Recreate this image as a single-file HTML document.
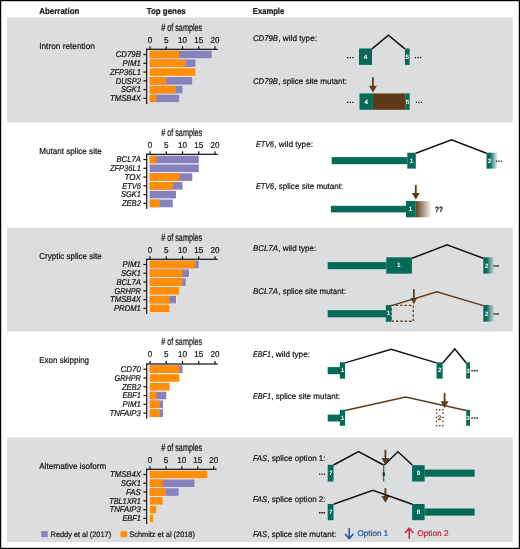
<!DOCTYPE html>
<html><head><meta charset="utf-8"><title>Splice site aberrations</title>
<style>
html,body{margin:0;padding:0;background:#fff;}
body{width:520px;height:549px;overflow:hidden;}
text{stroke:#151515;stroke-width:0.22px;} text.ns{stroke:none;} svg{display:block;will-change:transform;text-rendering:geometricPrecision;font-family:"Liberation Sans",sans-serif;}
</style></head><body>
<svg width="520" height="549" viewBox="0 0 520 549">
<defs>
<linearGradient id="fadeG" x1="0" x2="1" y1="0" y2="0"><stop offset="0" stop-color="#056b56"/><stop offset="1" stop-color="#056b56" stop-opacity="0"/></linearGradient>
<linearGradient id="fadeG2" x1="0" x2="1" y1="0" y2="0"><stop offset="0" stop-color="#056b56"/><stop offset="0.3" stop-color="#056b56"/><stop offset="1" stop-color="#056b56" stop-opacity="0"/></linearGradient>
<linearGradient id="fadeB" x1="0" x2="1" y1="0" y2="0"><stop offset="0" stop-color="#5f3a18"/><stop offset="1" stop-color="#5f3a18" stop-opacity="0"/></linearGradient>
</defs>
<rect x="0" y="0" width="520" height="549" fill="#fff"/>
<rect x="7" y="17.6" width="505.75" height="104.80000000000001" fill="#dcddde"/>
<rect x="7" y="227.75" width="505.75" height="103.85000000000002" fill="#dcddde"/>
<rect x="7" y="437.4" width="505.75" height="104.60000000000002" fill="#dcddde"/>
<rect x="0.6" y="0.6" width="518.8" height="547.8" fill="none" stroke="#000" stroke-width="1.2"/>
<text x="39.2" y="13.5" font-size="8.7" font-weight="bold" font-style="normal" text-anchor="start" fill="#151515" textLength="40.2" lengthAdjust="spacingAndGlyphs">Aberration</text>
<text x="146.7" y="13.5" font-size="8.7" font-weight="bold" font-style="normal" text-anchor="start" fill="#151515" textLength="39.0" lengthAdjust="spacingAndGlyphs">Top genes</text>
<text x="252.8" y="13.5" font-size="8.7" font-weight="bold" font-style="normal" text-anchor="start" fill="#151515" textLength="31.4" lengthAdjust="spacingAndGlyphs">Example</text>
<text x="39.2" y="48.8" font-size="8.6" font-weight="normal" font-style="normal" text-anchor="start" fill="#151515" textLength="55.7" lengthAdjust="spacingAndGlyphs">Intron retention</text>
<text x="181.7" y="30.499999999999996" font-size="10.3" font-weight="normal" font-style="normal" text-anchor="middle" fill="#151515" textLength="41" lengthAdjust="spacingAndGlyphs" stroke="#1a1a1a" stroke-width="0.25"># of samples</text>
<text transform="translate(150.0 42.699999999999996) scale(0.95 1)" font-size="8.5" font-weight="normal" font-style="normal" text-anchor="middle" fill="#151515">0</text>
<rect x="149.4" y="46.3" width="1.2" height="3.0" fill="#111"/>
<text transform="translate(166.25 42.699999999999996) scale(0.95 1)" font-size="8.5" font-weight="normal" font-style="normal" text-anchor="middle" fill="#151515">5</text>
<rect x="165.65" y="46.3" width="1.2" height="3.0" fill="#111"/>
<text transform="translate(182.5 42.699999999999996) scale(0.95 1)" font-size="8.5" font-weight="normal" font-style="normal" text-anchor="middle" fill="#151515">10</text>
<rect x="181.9" y="46.3" width="1.2" height="3.0" fill="#111"/>
<text transform="translate(198.75 42.699999999999996) scale(0.95 1)" font-size="8.5" font-weight="normal" font-style="normal" text-anchor="middle" fill="#151515">15</text>
<rect x="198.15" y="46.3" width="1.2" height="3.0" fill="#111"/>
<text transform="translate(215.0 42.699999999999996) scale(0.95 1)" font-size="8.5" font-weight="normal" font-style="normal" text-anchor="middle" fill="#151515">20</text>
<rect x="214.4" y="46.3" width="1.2" height="3.0" fill="#111"/>
<rect x="147.2" y="49.8" width="2.5" height="52.67999999999999" fill="#f2f2f7"/>
<rect x="149" y="50.199999999999996" width="63.25" height="8.6" fill="#f2f2f7" opacity="0.75"/>
<rect x="149" y="58.98" width="47.0" height="8.6" fill="#f2f2f7" opacity="0.75"/>
<rect x="149" y="67.75999999999999" width="47.0" height="8.6" fill="#f2f2f7" opacity="0.75"/>
<rect x="149" y="76.53999999999999" width="43.75" height="8.6" fill="#f2f2f7" opacity="0.75"/>
<rect x="149" y="85.32" width="34.0" height="8.6" fill="#f2f2f7" opacity="0.75"/>
<rect x="149" y="94.1" width="30.75" height="8.6" fill="#f2f2f7" opacity="0.75"/>
<rect x="149.7" y="50.699999999999996" width="62.05000000000001" height="7.6" fill="#8781bd"/>
<rect x="149.7" y="50.699999999999996" width="29.55000000000001" height="7.6" fill="#ff8e05"/>
<rect x="143.4" y="53.89999999999999" width="3.3" height="1.2" fill="#111"/>
<text x="140.9" y="57.24999999999999" font-size="8.4" font-weight="normal" font-style="italic" text-anchor="end" fill="#151515" textLength="25.2" lengthAdjust="spacingAndGlyphs">CD79B</text>
<rect x="149.7" y="59.48" width="45.80000000000001" height="7.6" fill="#8781bd"/>
<rect x="149.7" y="59.48" width="36.05000000000001" height="7.6" fill="#ff8e05"/>
<rect x="143.4" y="62.67999999999999" width="3.3" height="1.2" fill="#111"/>
<text x="140.9" y="66.03" font-size="8.4" font-weight="normal" font-style="italic" text-anchor="end" fill="#151515" textLength="18.3" lengthAdjust="spacingAndGlyphs">PIM1</text>
<rect x="149.7" y="68.25999999999999" width="45.80000000000001" height="7.6" fill="#ff8e05"/>
<rect x="143.4" y="71.46" width="3.3" height="1.2" fill="#111"/>
<text x="140.9" y="74.80999999999999" font-size="8.4" font-weight="normal" font-style="italic" text-anchor="end" fill="#151515" textLength="31.0" lengthAdjust="spacingAndGlyphs">ZFP36L1</text>
<rect x="149.7" y="77.03999999999999" width="42.55000000000001" height="7.6" fill="#8781bd"/>
<rect x="149.7" y="77.03999999999999" width="16.55000000000001" height="7.6" fill="#ff8e05"/>
<rect x="143.4" y="80.24" width="3.3" height="1.2" fill="#111"/>
<text x="140.9" y="83.58999999999999" font-size="8.4" font-weight="normal" font-style="italic" text-anchor="end" fill="#151515" textLength="25.2" lengthAdjust="spacingAndGlyphs">DUSP2</text>
<rect x="149.7" y="85.82" width="32.80000000000001" height="7.6" fill="#8781bd"/>
<rect x="149.7" y="85.82" width="26.30000000000001" height="7.6" fill="#ff8e05"/>
<rect x="143.4" y="89.02" width="3.3" height="1.2" fill="#111"/>
<text x="140.9" y="92.36999999999999" font-size="8.4" font-weight="normal" font-style="italic" text-anchor="end" fill="#151515" textLength="19.9" lengthAdjust="spacingAndGlyphs">SGK1</text>
<rect x="149.7" y="94.6" width="29.55000000000001" height="7.6" fill="#8781bd"/>
<rect x="149.7" y="94.6" width="6.800000000000011" height="7.6" fill="#ff8e05"/>
<rect x="143.4" y="97.8" width="3.3" height="1.2" fill="#111"/>
<text x="140.9" y="101.14999999999999" font-size="8.4" font-weight="normal" font-style="italic" text-anchor="end" fill="#151515" textLength="30.8" lengthAdjust="spacingAndGlyphs">TMSB4X</text>
<rect x="146.1" y="48.699999999999996" width="71.70000000000002" height="1.2" fill="#111"/>
<rect x="146.1" y="48.699999999999996" width="1.2" height="55.28" fill="#111"/>
<text x="39.2" y="154.1" font-size="8.6" font-weight="normal" font-style="normal" text-anchor="start" fill="#151515" textLength="62.5" lengthAdjust="spacingAndGlyphs">Mutant splice site</text>
<text x="181.7" y="135.5" font-size="10.3" font-weight="normal" font-style="normal" text-anchor="middle" fill="#151515" textLength="41" lengthAdjust="spacingAndGlyphs" stroke="#1a1a1a" stroke-width="0.25"># of samples</text>
<text transform="translate(150.0 147.70000000000002) scale(0.95 1)" font-size="8.5" font-weight="normal" font-style="normal" text-anchor="middle" fill="#151515">0</text>
<rect x="149.4" y="151.3" width="1.2" height="3.0" fill="#111"/>
<text transform="translate(166.25 147.70000000000002) scale(0.95 1)" font-size="8.5" font-weight="normal" font-style="normal" text-anchor="middle" fill="#151515">5</text>
<rect x="165.65" y="151.3" width="1.2" height="3.0" fill="#111"/>
<text transform="translate(182.5 147.70000000000002) scale(0.95 1)" font-size="8.5" font-weight="normal" font-style="normal" text-anchor="middle" fill="#151515">10</text>
<rect x="181.9" y="151.3" width="1.2" height="3.0" fill="#111"/>
<text transform="translate(198.75 147.70000000000002) scale(0.95 1)" font-size="8.5" font-weight="normal" font-style="normal" text-anchor="middle" fill="#151515">15</text>
<rect x="198.15" y="151.3" width="1.2" height="3.0" fill="#111"/>
<text transform="translate(215.0 147.70000000000002) scale(0.95 1)" font-size="8.5" font-weight="normal" font-style="normal" text-anchor="middle" fill="#151515">20</text>
<rect x="214.4" y="151.3" width="1.2" height="3.0" fill="#111"/>
<rect x="147.2" y="154.8" width="2.5" height="52.67999999999999" fill="#f2f2f7"/>
<rect x="149" y="155.20000000000002" width="50.25" height="8.6" fill="#f2f2f7" opacity="0.75"/>
<rect x="149" y="163.98000000000002" width="50.25" height="8.6" fill="#f2f2f7" opacity="0.75"/>
<rect x="149" y="172.76000000000002" width="43.75" height="8.6" fill="#f2f2f7" opacity="0.75"/>
<rect x="149" y="181.54000000000002" width="34.0" height="8.6" fill="#f2f2f7" opacity="0.75"/>
<rect x="149" y="190.32000000000002" width="27.5" height="8.6" fill="#f2f2f7" opacity="0.75"/>
<rect x="149" y="199.10000000000002" width="24.25" height="8.6" fill="#f2f2f7" opacity="0.75"/>
<rect x="149.7" y="155.70000000000002" width="49.05000000000001" height="7.6" fill="#8781bd"/>
<rect x="149.7" y="155.70000000000002" width="6.800000000000011" height="7.6" fill="#ff8e05"/>
<rect x="143.4" y="158.90000000000003" width="3.3" height="1.2" fill="#111"/>
<text x="140.9" y="162.25000000000003" font-size="8.4" font-weight="normal" font-style="italic" text-anchor="end" fill="#151515" textLength="24.5" lengthAdjust="spacingAndGlyphs">BCL7A</text>
<rect x="149.7" y="164.48000000000002" width="49.05000000000001" height="7.6" fill="#8781bd"/>
<rect x="143.4" y="167.68000000000004" width="3.3" height="1.2" fill="#111"/>
<text x="140.9" y="171.03000000000003" font-size="8.4" font-weight="normal" font-style="italic" text-anchor="end" fill="#151515" textLength="31.0" lengthAdjust="spacingAndGlyphs">ZFP36L1</text>
<rect x="149.7" y="173.26000000000002" width="42.55000000000001" height="7.6" fill="#8781bd"/>
<rect x="149.7" y="173.26000000000002" width="29.55000000000001" height="7.6" fill="#ff8e05"/>
<rect x="143.4" y="176.46000000000004" width="3.3" height="1.2" fill="#111"/>
<text x="140.9" y="179.81000000000003" font-size="8.4" font-weight="normal" font-style="italic" text-anchor="end" fill="#151515" textLength="16.4" lengthAdjust="spacingAndGlyphs">TOX</text>
<rect x="149.7" y="182.04000000000002" width="32.80000000000001" height="7.6" fill="#8781bd"/>
<rect x="149.7" y="182.04000000000002" width="23.05000000000001" height="7.6" fill="#ff8e05"/>
<rect x="143.4" y="185.24000000000004" width="3.3" height="1.2" fill="#111"/>
<text x="140.9" y="188.59000000000003" font-size="8.4" font-weight="normal" font-style="italic" text-anchor="end" fill="#151515" textLength="18.7" lengthAdjust="spacingAndGlyphs">ETV6</text>
<rect x="149.7" y="190.82000000000002" width="26.30000000000001" height="7.6" fill="#8781bd"/>
<rect x="143.4" y="194.02000000000004" width="3.3" height="1.2" fill="#111"/>
<text x="140.9" y="197.37000000000003" font-size="8.4" font-weight="normal" font-style="italic" text-anchor="end" fill="#151515" textLength="19.9" lengthAdjust="spacingAndGlyphs">SGK1</text>
<rect x="149.7" y="199.60000000000002" width="23.05000000000001" height="7.6" fill="#8781bd"/>
<rect x="149.7" y="199.60000000000002" width="10.050000000000011" height="7.6" fill="#ff8e05"/>
<rect x="143.4" y="202.80000000000004" width="3.3" height="1.2" fill="#111"/>
<text x="140.9" y="206.15000000000003" font-size="8.4" font-weight="normal" font-style="italic" text-anchor="end" fill="#151515" textLength="19.0" lengthAdjust="spacingAndGlyphs">ZEB2</text>
<rect x="146.1" y="153.70000000000002" width="71.70000000000002" height="1.2" fill="#111"/>
<rect x="146.1" y="153.70000000000002" width="1.2" height="55.27999999999999" fill="#111"/>
<text x="39.2" y="258.8" font-size="8.6" font-weight="normal" font-style="normal" text-anchor="start" fill="#151515" textLength="62.5" lengthAdjust="spacingAndGlyphs">Cryptic splice site</text>
<text x="181.7" y="240.5" font-size="10.3" font-weight="normal" font-style="normal" text-anchor="middle" fill="#151515" textLength="41" lengthAdjust="spacingAndGlyphs" stroke="#1a1a1a" stroke-width="0.25"># of samples</text>
<text transform="translate(150.0 252.70000000000002) scale(0.95 1)" font-size="8.5" font-weight="normal" font-style="normal" text-anchor="middle" fill="#151515">0</text>
<rect x="149.4" y="256.3" width="1.2" height="3.0" fill="#111"/>
<text transform="translate(166.25 252.70000000000002) scale(0.95 1)" font-size="8.5" font-weight="normal" font-style="normal" text-anchor="middle" fill="#151515">5</text>
<rect x="165.65" y="256.3" width="1.2" height="3.0" fill="#111"/>
<text transform="translate(182.5 252.70000000000002) scale(0.95 1)" font-size="8.5" font-weight="normal" font-style="normal" text-anchor="middle" fill="#151515">10</text>
<rect x="181.9" y="256.3" width="1.2" height="3.0" fill="#111"/>
<text transform="translate(198.75 252.70000000000002) scale(0.95 1)" font-size="8.5" font-weight="normal" font-style="normal" text-anchor="middle" fill="#151515">15</text>
<rect x="198.15" y="256.3" width="1.2" height="3.0" fill="#111"/>
<text transform="translate(215.0 252.70000000000002) scale(0.95 1)" font-size="8.5" font-weight="normal" font-style="normal" text-anchor="middle" fill="#151515">20</text>
<rect x="214.4" y="256.3" width="1.2" height="3.0" fill="#111"/>
<rect x="147.2" y="259.8" width="2.5" height="52.67999999999999" fill="#f2f2f7"/>
<rect x="149" y="260.2" width="50.25" height="8.6" fill="#f2f2f7" opacity="0.75"/>
<rect x="149" y="268.97999999999996" width="40.5" height="8.6" fill="#f2f2f7" opacity="0.75"/>
<rect x="149" y="277.76" width="37.25" height="8.6" fill="#f2f2f7" opacity="0.75"/>
<rect x="149" y="286.53999999999996" width="30.75" height="8.6" fill="#f2f2f7" opacity="0.75"/>
<rect x="149" y="295.32" width="27.5" height="8.6" fill="#f2f2f7" opacity="0.75"/>
<rect x="149" y="304.09999999999997" width="21.0" height="8.6" fill="#f2f2f7" opacity="0.75"/>
<rect x="149.7" y="260.7" width="49.05000000000001" height="7.6" fill="#8781bd"/>
<rect x="149.7" y="260.7" width="45.80000000000001" height="7.6" fill="#ff8e05"/>
<rect x="143.4" y="263.9" width="3.3" height="1.2" fill="#111"/>
<text x="140.9" y="267.25" font-size="8.4" font-weight="normal" font-style="italic" text-anchor="end" fill="#151515" textLength="18.3" lengthAdjust="spacingAndGlyphs">PIM1</text>
<rect x="149.7" y="269.47999999999996" width="39.30000000000001" height="7.6" fill="#8781bd"/>
<rect x="149.7" y="269.47999999999996" width="32.80000000000001" height="7.6" fill="#ff8e05"/>
<rect x="143.4" y="272.67999999999995" width="3.3" height="1.2" fill="#111"/>
<text x="140.9" y="276.03" font-size="8.4" font-weight="normal" font-style="italic" text-anchor="end" fill="#151515" textLength="19.9" lengthAdjust="spacingAndGlyphs">SGK1</text>
<rect x="149.7" y="278.26" width="36.05000000000001" height="7.6" fill="#8781bd"/>
<rect x="149.7" y="278.26" width="32.80000000000001" height="7.6" fill="#ff8e05"/>
<rect x="143.4" y="281.46" width="3.3" height="1.2" fill="#111"/>
<text x="140.9" y="284.81" font-size="8.4" font-weight="normal" font-style="italic" text-anchor="end" fill="#151515" textLength="24.5" lengthAdjust="spacingAndGlyphs">BCL7A</text>
<rect x="149.7" y="287.03999999999996" width="29.55000000000001" height="7.6" fill="#ff8e05"/>
<rect x="143.4" y="290.23999999999995" width="3.3" height="1.2" fill="#111"/>
<text x="140.9" y="293.59" font-size="8.4" font-weight="normal" font-style="italic" text-anchor="end" fill="#151515" textLength="26.4" lengthAdjust="spacingAndGlyphs">GRHPR</text>
<rect x="149.7" y="295.82" width="26.30000000000001" height="7.6" fill="#8781bd"/>
<rect x="149.7" y="295.82" width="19.80000000000001" height="7.6" fill="#ff8e05"/>
<rect x="143.4" y="299.02" width="3.3" height="1.2" fill="#111"/>
<text x="140.9" y="302.37" font-size="8.4" font-weight="normal" font-style="italic" text-anchor="end" fill="#151515" textLength="30.8" lengthAdjust="spacingAndGlyphs">TMSB4X</text>
<rect x="149.7" y="304.59999999999997" width="19.80000000000001" height="7.6" fill="#ff8e05"/>
<rect x="143.4" y="307.79999999999995" width="3.3" height="1.2" fill="#111"/>
<text x="140.9" y="311.15" font-size="8.4" font-weight="normal" font-style="italic" text-anchor="end" fill="#151515" textLength="26.9" lengthAdjust="spacingAndGlyphs">PRDM1</text>
<rect x="146.1" y="258.7" width="71.70000000000002" height="1.2" fill="#111"/>
<rect x="146.1" y="258.7" width="1.2" height="55.27999999999999" fill="#111"/>
<text x="39.2" y="363.0" font-size="8.6" font-weight="normal" font-style="normal" text-anchor="start" fill="#151515" textLength="49.9" lengthAdjust="spacingAndGlyphs">Exon skipping</text>
<text x="181.7" y="345.2" font-size="10.3" font-weight="normal" font-style="normal" text-anchor="middle" fill="#151515" textLength="41" lengthAdjust="spacingAndGlyphs" stroke="#1a1a1a" stroke-width="0.25"># of samples</text>
<text transform="translate(150.0 357.4) scale(0.95 1)" font-size="8.5" font-weight="normal" font-style="normal" text-anchor="middle" fill="#151515">0</text>
<rect x="149.4" y="361.0" width="1.2" height="3.0" fill="#111"/>
<text transform="translate(166.25 357.4) scale(0.95 1)" font-size="8.5" font-weight="normal" font-style="normal" text-anchor="middle" fill="#151515">5</text>
<rect x="165.65" y="361.0" width="1.2" height="3.0" fill="#111"/>
<text transform="translate(182.5 357.4) scale(0.95 1)" font-size="8.5" font-weight="normal" font-style="normal" text-anchor="middle" fill="#151515">10</text>
<rect x="181.9" y="361.0" width="1.2" height="3.0" fill="#111"/>
<text transform="translate(198.75 357.4) scale(0.95 1)" font-size="8.5" font-weight="normal" font-style="normal" text-anchor="middle" fill="#151515">15</text>
<rect x="198.15" y="361.0" width="1.2" height="3.0" fill="#111"/>
<text transform="translate(215.0 357.4) scale(0.95 1)" font-size="8.5" font-weight="normal" font-style="normal" text-anchor="middle" fill="#151515">20</text>
<rect x="214.4" y="361.0" width="1.2" height="3.0" fill="#111"/>
<rect x="147.2" y="364.5" width="2.5" height="52.67999999999999" fill="#f2f2f7"/>
<rect x="149" y="364.9" width="34.0" height="8.6" fill="#f2f2f7" opacity="0.75"/>
<rect x="149" y="373.67999999999995" width="30.75" height="8.6" fill="#f2f2f7" opacity="0.75"/>
<rect x="149" y="382.46" width="21.0" height="8.6" fill="#f2f2f7" opacity="0.75"/>
<rect x="149" y="391.23999999999995" width="17.75" height="8.6" fill="#f2f2f7" opacity="0.75"/>
<rect x="149" y="400.02" width="14.5" height="8.6" fill="#f2f2f7" opacity="0.75"/>
<rect x="149" y="408.79999999999995" width="14.5" height="8.6" fill="#f2f2f7" opacity="0.75"/>
<rect x="149.7" y="365.4" width="32.80000000000001" height="7.6" fill="#8781bd"/>
<rect x="149.7" y="365.4" width="29.55000000000001" height="7.6" fill="#ff8e05"/>
<rect x="143.4" y="368.59999999999997" width="3.3" height="1.2" fill="#111"/>
<text x="140.9" y="371.95" font-size="8.4" font-weight="normal" font-style="italic" text-anchor="end" fill="#151515" textLength="20.4" lengthAdjust="spacingAndGlyphs">CD70</text>
<rect x="149.7" y="374.17999999999995" width="29.55000000000001" height="7.6" fill="#ff8e05"/>
<rect x="143.4" y="377.37999999999994" width="3.3" height="1.2" fill="#111"/>
<text x="140.9" y="380.72999999999996" font-size="8.4" font-weight="normal" font-style="italic" text-anchor="end" fill="#151515" textLength="26.4" lengthAdjust="spacingAndGlyphs">GRHPR</text>
<rect x="149.7" y="382.96" width="19.80000000000001" height="7.6" fill="#ff8e05"/>
<rect x="143.4" y="386.15999999999997" width="3.3" height="1.2" fill="#111"/>
<text x="140.9" y="389.51" font-size="8.4" font-weight="normal" font-style="italic" text-anchor="end" fill="#151515" textLength="19.0" lengthAdjust="spacingAndGlyphs">ZEB2</text>
<rect x="149.7" y="391.73999999999995" width="16.55000000000001" height="7.6" fill="#8781bd"/>
<rect x="149.7" y="391.73999999999995" width="6.800000000000011" height="7.6" fill="#ff8e05"/>
<rect x="143.4" y="394.93999999999994" width="3.3" height="1.2" fill="#111"/>
<text x="140.9" y="398.28999999999996" font-size="8.4" font-weight="normal" font-style="italic" text-anchor="end" fill="#151515" textLength="18.5" lengthAdjust="spacingAndGlyphs">EBF1</text>
<rect x="149.7" y="400.52" width="13.300000000000011" height="7.6" fill="#8781bd"/>
<rect x="149.7" y="400.52" width="10.050000000000011" height="7.6" fill="#ff8e05"/>
<rect x="143.4" y="403.71999999999997" width="3.3" height="1.2" fill="#111"/>
<text x="140.9" y="407.07" font-size="8.4" font-weight="normal" font-style="italic" text-anchor="end" fill="#151515" textLength="18.3" lengthAdjust="spacingAndGlyphs">PIM1</text>
<rect x="149.7" y="409.29999999999995" width="13.300000000000011" height="7.6" fill="#8781bd"/>
<rect x="149.7" y="409.29999999999995" width="10.050000000000011" height="7.6" fill="#ff8e05"/>
<rect x="143.4" y="412.49999999999994" width="3.3" height="1.2" fill="#111"/>
<text x="140.9" y="415.84999999999997" font-size="8.4" font-weight="normal" font-style="italic" text-anchor="end" fill="#151515" textLength="31.5" lengthAdjust="spacingAndGlyphs">TNFAIP3</text>
<rect x="146.1" y="363.4" width="71.70000000000002" height="1.2" fill="#111"/>
<rect x="146.1" y="363.4" width="1.2" height="55.27999999999999" fill="#111"/>
<text x="39.2" y="469.1" font-size="8.6" font-weight="normal" font-style="normal" text-anchor="start" fill="#151515" textLength="67.1" lengthAdjust="spacingAndGlyphs">Alternative isoform</text>
<text x="181.7" y="450.5" font-size="10.3" font-weight="normal" font-style="normal" text-anchor="middle" fill="#151515" textLength="41" lengthAdjust="spacingAndGlyphs" stroke="#1a1a1a" stroke-width="0.25"># of samples</text>
<text transform="translate(150.0 462.7) scale(0.95 1)" font-size="8.5" font-weight="normal" font-style="normal" text-anchor="middle" fill="#151515">0</text>
<rect x="149.4" y="466.3" width="1.2" height="3.0" fill="#111"/>
<text transform="translate(165.925 462.7) scale(0.95 1)" font-size="8.5" font-weight="normal" font-style="normal" text-anchor="middle" fill="#151515">5</text>
<rect x="165.32500000000002" y="466.3" width="1.2" height="3.0" fill="#111"/>
<text transform="translate(181.85 462.7) scale(0.95 1)" font-size="8.5" font-weight="normal" font-style="normal" text-anchor="middle" fill="#151515">10</text>
<rect x="181.25" y="466.3" width="1.2" height="3.0" fill="#111"/>
<text transform="translate(197.775 462.7) scale(0.95 1)" font-size="8.5" font-weight="normal" font-style="normal" text-anchor="middle" fill="#151515">15</text>
<rect x="197.175" y="466.3" width="1.2" height="3.0" fill="#111"/>
<text transform="translate(213.7 462.7) scale(0.95 1)" font-size="8.5" font-weight="normal" font-style="normal" text-anchor="middle" fill="#151515">20</text>
<rect x="213.1" y="466.3" width="1.2" height="3.0" fill="#111"/>
<rect x="147.2" y="469.8" width="2.5" height="52.67999999999999" fill="#f2f2f7"/>
<rect x="149" y="470.2" width="58.829999999999984" height="8.6" fill="#f2f2f7" opacity="0.75"/>
<rect x="149" y="478.97999999999996" width="46.09" height="8.6" fill="#f2f2f7" opacity="0.75"/>
<rect x="149" y="487.76" width="30.164999999999992" height="8.6" fill="#f2f2f7" opacity="0.75"/>
<rect x="149" y="496.53999999999996" width="14.240000000000009" height="8.6" fill="#f2f2f7" opacity="0.75"/>
<rect x="149" y="505.32" width="7.8700000000000045" height="8.6" fill="#f2f2f7" opacity="0.75"/>
<rect x="149" y="514.1" width="4.685000000000002" height="8.6" fill="#f2f2f7" opacity="0.75"/>
<rect x="149.7" y="470.7" width="57.629999999999995" height="7.6" fill="#ff8e05"/>
<rect x="143.4" y="473.9" width="3.3" height="1.2" fill="#111"/>
<text x="140.9" y="477.25" font-size="8.4" font-weight="normal" font-style="italic" text-anchor="end" fill="#151515" textLength="30.8" lengthAdjust="spacingAndGlyphs">TMSB4X</text>
<rect x="149.7" y="479.47999999999996" width="44.890000000000015" height="7.6" fill="#8781bd"/>
<rect x="149.7" y="479.47999999999996" width="13.04000000000002" height="7.6" fill="#ff8e05"/>
<rect x="143.4" y="482.67999999999995" width="3.3" height="1.2" fill="#111"/>
<text x="140.9" y="486.03" font-size="8.4" font-weight="normal" font-style="italic" text-anchor="end" fill="#151515" textLength="19.9" lengthAdjust="spacingAndGlyphs">SGK1</text>
<rect x="149.7" y="488.26" width="28.965000000000003" height="7.6" fill="#8781bd"/>
<rect x="149.7" y="488.26" width="16.225000000000023" height="7.6" fill="#ff8e05"/>
<rect x="143.4" y="491.46" width="3.3" height="1.2" fill="#111"/>
<text x="140.9" y="494.81" font-size="8.4" font-weight="normal" font-style="italic" text-anchor="end" fill="#151515" textLength="14.8" lengthAdjust="spacingAndGlyphs">FAS</text>
<rect x="149.7" y="497.03999999999996" width="13.04000000000002" height="7.6" fill="#ff8e05"/>
<rect x="143.4" y="500.23999999999995" width="3.3" height="1.2" fill="#111"/>
<text x="140.9" y="503.59" font-size="8.4" font-weight="normal" font-style="italic" text-anchor="end" fill="#151515" textLength="31.7" lengthAdjust="spacingAndGlyphs">TBL1XR1</text>
<rect x="149.7" y="505.82" width="6.670000000000016" height="7.6" fill="#ff8e05"/>
<rect x="143.4" y="509.02" width="3.3" height="1.2" fill="#111"/>
<text x="140.9" y="512.37" font-size="8.4" font-weight="normal" font-style="italic" text-anchor="end" fill="#151515" textLength="31.5" lengthAdjust="spacingAndGlyphs">TNFAIP3</text>
<rect x="149.7" y="514.6" width="3.4850000000000136" height="7.6" fill="#ff8e05"/>
<rect x="143.4" y="517.8" width="3.3" height="1.2" fill="#111"/>
<text x="140.9" y="521.15" font-size="8.4" font-weight="normal" font-style="italic" text-anchor="end" fill="#151515" textLength="18.5" lengthAdjust="spacingAndGlyphs">EBF1</text>
<rect x="146.1" y="468.7" width="70.4" height="1.2" fill="#111"/>
<rect x="146.1" y="468.7" width="1.2" height="55.27999999999999" fill="#111"/>
<rect x="41.25" y="531.1" width="6.5" height="6" fill="#8781bd"/>
<text x="50.6" y="536.8" font-size="7.8" font-weight="normal" font-style="normal" text-anchor="start" fill="#151515" textLength="60.5" lengthAdjust="spacingAndGlyphs">Reddy et al (2017)</text>
<rect x="120.5" y="531.1" width="6.5" height="6" fill="#ff8e05"/>
<text x="129.3" y="536.8" font-size="7.8" font-weight="normal" font-style="normal" text-anchor="start" fill="#151515" textLength="65.6" lengthAdjust="spacingAndGlyphs">Schmitz et al (2018)</text>
<text x="253" y="41.0" font-size="8.2" font-style="italic" fill="#151515" textLength="25" lengthAdjust="spacingAndGlyphs">CD79B</text>
<text x="278.3" y="41.0" font-size="8.2" fill="#151515" textLength="38.7" lengthAdjust="spacingAndGlyphs">, wild type:</text>
<text x="253" y="83.5" font-size="8.2" font-style="italic" fill="#151515" textLength="25" lengthAdjust="spacingAndGlyphs">CD79B</text>
<text x="278.3" y="83.5" font-size="8.2" fill="#151515" textLength="68.7" lengthAdjust="spacingAndGlyphs">, splice site mutant:</text>
<polyline points="372.00,48.90 388.40,35.20 404.90,48.90" fill="none" stroke="#111" stroke-width="1.5" stroke-linejoin="miter" stroke-linecap="butt"/>
<rect x="359.00" y="48.50" width="13.00" height="16.40" fill="#056b56"/>
<rect x="404.90" y="48.50" width="4.70" height="16.40" fill="#056b56"/>
<text x="365.6" y="58.67" font-size="6.3" font-weight="bold" text-anchor="middle" fill="#fff" class="ns">4</text>
<clipPath id="c5a"><rect x="404.4" y="48" width="5.7" height="18"/></clipPath>
<g clip-path="url(#c5a)">
<text x="407.3" y="58.63" font-size="6.2" font-weight="bold" text-anchor="middle" fill="#fff" class="ns">5</text>
</g>
<rect x="346.90" y="56.95" width="1.29" height="1.29" rx="0.25" fill="#0d0d0d"/>
<rect x="349.56" y="56.95" width="1.29" height="1.29" rx="0.25" fill="#0d0d0d"/>
<rect x="352.21" y="56.95" width="1.29" height="1.29" rx="0.25" fill="#0d0d0d"/>
<rect x="414.70" y="56.95" width="1.29" height="1.29" rx="0.25" fill="#0d0d0d"/>
<rect x="417.36" y="56.95" width="1.29" height="1.29" rx="0.25" fill="#0d0d0d"/>
<rect x="420.01" y="56.95" width="1.29" height="1.29" rx="0.25" fill="#0d0d0d"/>
<rect x="359.50" y="93.40" width="13.40" height="16.40" fill="#056b56"/>
<rect x="372.90" y="93.40" width="32.30" height="16.40" fill="#5f3a18"/>
<rect x="405.20" y="93.40" width="4.50" height="16.40" fill="#056b56"/>
<text x="366.3" y="103.57" font-size="6.3" font-weight="bold" text-anchor="middle" fill="#fff" class="ns">4</text>
<clipPath id="c5b"><rect x="404.7" y="93" width="5.5" height="18"/></clipPath>
<g clip-path="url(#c5b)">
<text x="407.5" y="103.53" font-size="6.2" font-weight="bold" text-anchor="middle" fill="#fff" class="ns">5</text>
</g>
<rect x="346.90" y="101.66" width="1.29" height="1.29" rx="0.25" fill="#0d0d0d"/>
<rect x="349.56" y="101.66" width="1.29" height="1.29" rx="0.25" fill="#0d0d0d"/>
<rect x="352.21" y="101.66" width="1.29" height="1.29" rx="0.25" fill="#0d0d0d"/>
<rect x="415.80" y="101.66" width="1.29" height="1.29" rx="0.25" fill="#0d0d0d"/>
<rect x="418.36" y="101.66" width="1.29" height="1.29" rx="0.25" fill="#0d0d0d"/>
<rect x="420.91" y="101.66" width="1.29" height="1.29" rx="0.25" fill="#0d0d0d"/>
<rect x="372.00" y="77.30" width="1.80" height="9.40" fill="#5f3a18"/>
<path d="M368.90,85.70 L376.90,85.70 L372.90,92.60 Z" fill="#5f3a18"/>
<text x="256" y="147.2" font-size="8.2" font-style="italic" fill="#151515" textLength="18" lengthAdjust="spacingAndGlyphs">ETV6</text>
<text x="274.3" y="147.2" font-size="8.2" fill="#151515" textLength="38.7" lengthAdjust="spacingAndGlyphs">, wild type:</text>
<text x="256" y="188.9" font-size="8.2" font-style="italic" fill="#151515" textLength="18" lengthAdjust="spacingAndGlyphs">ETV6</text>
<text x="274.3" y="188.9" font-size="8.2" fill="#151515" textLength="69.0" lengthAdjust="spacingAndGlyphs">, splice site mutant:</text>
<polyline points="415.80,153.30 451.50,139.80 486.50,153.30" fill="none" stroke="#111" stroke-width="1.5" stroke-linejoin="miter" stroke-linecap="butt"/>
<rect x="331.70" y="157.10" width="75.80" height="7.10" fill="#056b56"/>
<rect x="407.30" y="152.70" width="8.50" height="15.95" fill="#056b56"/>
<text x="411.5" y="162.57" font-size="6.3" font-weight="bold" text-anchor="middle" fill="#fff" class="ns">1</text>
<rect x="486.5" y="152.7" width="11.5" height="15.95" fill="url(#fadeG2)"/>
<text x="489.4" y="162.77" font-size="6.3" font-weight="bold" text-anchor="middle" fill="#fff" class="ns">2</text>
<rect x="495.90" y="160.55" width="1.29" height="1.29" rx="0.25" fill="#0d0d0d"/>
<rect x="498.31" y="160.55" width="1.29" height="1.29" rx="0.25" fill="#0d0d0d"/>
<rect x="500.71" y="160.55" width="1.29" height="1.29" rx="0.25" fill="#0d0d0d"/>
<rect x="330.90" y="205.80" width="76.00" height="6.60" fill="#056b56"/>
<rect x="406.00" y="200.90" width="9.30" height="16.40" fill="#056b56"/>
<rect x="415.3" y="201.1" width="16.5" height="16.2" fill="url(#fadeB)"/>
<text x="410.6" y="210.87" font-size="6.3" font-weight="bold" text-anchor="middle" fill="#fff" class="ns">1</text>
<text x="435" y="211.6" font-size="7.8" font-weight="bold" fill="#151515" textLength="8" lengthAdjust="spacingAndGlyphs">??</text>
<rect x="414.90" y="185.00" width="1.80" height="9.10" fill="#5f3a18"/>
<path d="M411.80,193.10 L419.80,193.10 L415.80,199.50 Z" fill="#5f3a18"/>
<text x="253" y="251.1" font-size="8.2" font-style="italic" fill="#151515" textLength="25" lengthAdjust="spacingAndGlyphs">BCL7A</text>
<text x="278.3" y="251.1" font-size="8.2" fill="#151515" textLength="38.0" lengthAdjust="spacingAndGlyphs">, wild type:</text>
<text x="253" y="293.5" font-size="8.2" font-style="italic" fill="#151515" textLength="25" lengthAdjust="spacingAndGlyphs">BCL7A</text>
<text x="278.3" y="293.5" font-size="8.2" fill="#151515" textLength="67.7" lengthAdjust="spacingAndGlyphs">, splice site mutant:</text>
<polyline points="411.90,258.30 447.10,244.80 483.30,258.30" fill="none" stroke="#111" stroke-width="1.5" stroke-linejoin="miter" stroke-linecap="butt"/>
<rect x="327.70" y="262.10" width="58.80" height="7.10" fill="#056b56"/>
<rect x="386.30" y="257.30" width="25.60" height="16.35" fill="#056b56"/>
<text x="398.8" y="267.47" font-size="6.3" font-weight="bold" text-anchor="middle" fill="#fff" class="ns">1</text>
<rect x="483.3" y="257.3" width="11" height="16.35" fill="url(#fadeG2)"/>
<text x="486.5" y="267.67" font-size="6.3" font-weight="bold" text-anchor="middle" fill="#fff" class="ns">2</text>
<rect x="493.50" y="265.36" width="1.29" height="1.29" rx="0.25" fill="#0d0d0d"/>
<rect x="495.50" y="265.36" width="1.29" height="1.29" rx="0.25" fill="#0d0d0d"/>
<rect x="497.51" y="265.36" width="1.29" height="1.29" rx="0.25" fill="#0d0d0d"/>
<rect x="391.3" y="305.45" width="22.0" height="15.8" fill="none" stroke="#5f3a18" stroke-width="1.3" stroke-dasharray="2.3 2.1"/>
<polyline points="391.50,305.60 436.90,291.90 483.30,305.60" fill="none" stroke="#5f3a18" stroke-width="1.5" stroke-linejoin="miter" stroke-linecap="butt"/>
<rect x="327.70" y="310.20" width="58.80" height="7.10" fill="#056b56"/>
<rect x="385.90" y="305.10" width="5.40" height="16.70" fill="#056b56"/>
<text x="388.6" y="315.17" font-size="6.3" font-weight="bold" text-anchor="middle" fill="#fff" class="ns">1</text>
<rect x="483.3" y="305.0" width="11" height="16.7" fill="url(#fadeG2)"/>
<text x="486.5" y="315.67" font-size="6.3" font-weight="bold" text-anchor="middle" fill="#fff" class="ns">2</text>
<rect x="493.50" y="313.36" width="1.29" height="1.29" rx="0.25" fill="#0d0d0d"/>
<rect x="495.50" y="313.36" width="1.29" height="1.29" rx="0.25" fill="#0d0d0d"/>
<rect x="497.51" y="313.36" width="1.29" height="1.29" rx="0.25" fill="#0d0d0d"/>
<rect x="412.95" y="289.20" width="1.80" height="9.70" fill="#5f3a18"/>
<path d="M410.45,297.90 L417.25,297.90 L413.85,304.20 Z" fill="#5f3a18"/>
<text x="253" y="356.5" font-size="8.2" font-style="italic" fill="#151515" textLength="18" lengthAdjust="spacingAndGlyphs">EBF1</text>
<text x="271.3" y="356.5" font-size="8.2" fill="#151515" textLength="38.7" lengthAdjust="spacingAndGlyphs">, wild type:</text>
<text x="253" y="398.5" font-size="8.2" font-style="italic" fill="#151515" textLength="18" lengthAdjust="spacingAndGlyphs">EBF1</text>
<text x="271.3" y="398.5" font-size="8.2" fill="#151515" textLength="68.8" lengthAdjust="spacingAndGlyphs">, splice site mutant:</text>
<polyline points="345.00,362.90 391.20,349.20 436.50,362.90" fill="none" stroke="#111" stroke-width="1.5" stroke-linejoin="miter" stroke-linecap="butt"/>
<polyline points="442.70,362.90 454.80,348.90 466.30,362.90" fill="none" stroke="#111" stroke-width="1.5" stroke-linejoin="miter" stroke-linecap="butt"/>
<rect x="327.70" y="367.10" width="12.30" height="7.10" fill="#056b56"/>
<rect x="339.80" y="362.30" width="5.20" height="16.35" fill="#056b56"/>
<text x="342.5" y="372.47" font-size="6.3" font-weight="bold" text-anchor="middle" fill="#fff" class="ns">1</text>
<rect x="436.50" y="362.30" width="6.20" height="16.35" fill="#056b56"/>
<text x="439.7" y="372.47" font-size="6.3" font-weight="bold" text-anchor="middle" fill="#fff" class="ns">2</text>
<rect x="466.20" y="362.30" width="3.80" height="16.35" fill="#056b56"/>
<clipPath id="c3a"><rect x="465.6" y="362" width="5.0" height="18"/></clipPath>
<g clip-path="url(#c3a)">
<text x="468.1" y="372.63" font-size="6.2" font-weight="bold" text-anchor="middle" fill="#fff" class="ns">3</text>
</g>
<rect x="471.40" y="370.12" width="1.35" height="1.35" rx="0.25" fill="#0d0d0d"/>
<rect x="473.97" y="370.12" width="1.35" height="1.35" rx="0.25" fill="#0d0d0d"/>
<rect x="476.55" y="370.12" width="1.35" height="1.35" rx="0.25" fill="#0d0d0d"/>
<polyline points="345.00,410.40 405.70,396.90 466.30,410.40" fill="none" stroke="#5f3a18" stroke-width="1.5" stroke-linejoin="miter" stroke-linecap="butt"/>
<rect x="327.70" y="414.60" width="12.30" height="6.90" fill="#056b56"/>
<rect x="339.80" y="409.80" width="5.20" height="16.00" fill="#056b56"/>
<text x="342.5" y="419.67" font-size="6.3" font-weight="bold" text-anchor="middle" fill="#fff" class="ns">1</text>
<rect x="435.88" y="408.98" width="1.44" height="1.44" fill="#5f3a18"/>
<rect x="439.03" y="408.98" width="1.44" height="1.44" fill="#5f3a18"/>
<rect x="442.23" y="408.98" width="1.44" height="1.44" fill="#5f3a18"/>
<rect x="435.88" y="412.43" width="1.44" height="1.44" fill="#5f3a18"/>
<rect x="442.23" y="412.43" width="1.44" height="1.44" fill="#5f3a18"/>
<rect x="435.88" y="416.58" width="1.44" height="1.44" fill="#5f3a18"/>
<rect x="442.23" y="416.58" width="1.44" height="1.44" fill="#5f3a18"/>
<rect x="435.88" y="420.78" width="1.44" height="1.44" fill="#5f3a18"/>
<rect x="442.23" y="420.78" width="1.44" height="1.44" fill="#5f3a18"/>
<rect x="435.88" y="424.93" width="1.44" height="1.44" fill="#5f3a18"/>
<rect x="439.03" y="424.93" width="1.44" height="1.44" fill="#5f3a18"/>
<rect x="442.23" y="424.93" width="1.44" height="1.44" fill="#5f3a18"/>
<text x="439.7" y="420.0" font-size="6.6" text-anchor="middle" fill="#5f3a18" style="stroke:#5f3a18;stroke-width:0.25px">2</text>
<rect x="466.20" y="409.80" width="3.80" height="16.00" fill="#056b56"/>
<clipPath id="c3b"><rect x="465.6" y="409" width="5.0" height="18"/></clipPath>
<g clip-path="url(#c3b)">
<text x="468.1" y="419.83" font-size="6.2" font-weight="bold" text-anchor="middle" fill="#fff" class="ns">3</text>
</g>
<rect x="471.40" y="417.32" width="1.35" height="1.35" rx="0.25" fill="#0d0d0d"/>
<rect x="473.97" y="417.32" width="1.35" height="1.35" rx="0.25" fill="#0d0d0d"/>
<rect x="476.55" y="417.32" width="1.35" height="1.35" rx="0.25" fill="#0d0d0d"/>
<rect x="443.70" y="393.10" width="1.80" height="9.10" fill="#5f3a18"/>
<path d="M440.60,401.20 L448.60,401.20 L444.60,408.10 Z" fill="#5f3a18"/>
<text x="253" y="460.6" font-size="8.2" font-style="italic" fill="#151515" textLength="14" lengthAdjust="spacingAndGlyphs">FAS</text>
<text x="267.3" y="460.6" font-size="8.2" fill="#151515" textLength="58.3" lengthAdjust="spacingAndGlyphs">, splice option 1:</text>
<text x="253" y="501.6" font-size="8.2" font-style="italic" fill="#151515" textLength="14" lengthAdjust="spacingAndGlyphs">FAS</text>
<text x="267.3" y="501.6" font-size="8.2" fill="#151515" textLength="58.3" lengthAdjust="spacingAndGlyphs">, splice option 2:</text>
<text x="253" y="536.5" font-size="8.2" font-style="italic" fill="#151515" textLength="14" lengthAdjust="spacingAndGlyphs">FAS</text>
<text x="267.3" y="536.5" font-size="8.2" fill="#151515" textLength="68.9" lengthAdjust="spacingAndGlyphs">, splice site mutant:</text>
<polyline points="333.50,465.00 358.50,451.70 383.60,465.00" fill="none" stroke="#111" stroke-width="1.5" stroke-linejoin="miter" stroke-linecap="butt"/>
<polyline points="384.30,465.00 397.90,451.70 412.30,465.00" fill="none" stroke="#111" stroke-width="1.5" stroke-linejoin="miter" stroke-linecap="butt"/>
<rect x="327.70" y="464.80" width="5.80" height="16.70" fill="#056b56"/>
<text x="330.7" y="475.27" font-size="6.3" font-weight="bold" text-anchor="middle" fill="#fff" class="ns">7</text>
<rect x="319.00" y="473.52" width="1.35" height="1.35" rx="0.25" fill="#0d0d0d"/>
<rect x="321.32" y="473.52" width="1.35" height="1.35" rx="0.25" fill="#0d0d0d"/>
<rect x="323.65" y="473.52" width="1.35" height="1.35" rx="0.25" fill="#0d0d0d"/>
<rect x="383.00" y="464.80" width="1.30" height="16.70" fill="#14826b"/>
<text x="383.7" y="475.6" font-size="5.4" font-weight="bold" text-anchor="middle" fill="#111" class="ns">8</text>
<rect x="412.10" y="465.20" width="12.50" height="16.30" fill="#056b56"/>
<rect x="424.40" y="469.60" width="50.20" height="7.10" fill="#056b56"/>
<text x="418.4" y="475.27" font-size="6.3" font-weight="bold" text-anchor="middle" fill="#fff" class="ns">9</text>
<rect x="384.50" y="449.80" width="1.80" height="9.20" fill="#5f3a18"/>
<path d="M381.40,458.00 L389.40,458.00 L385.40,464.90 Z" fill="#5f3a18"/>
<rect x="327.70" y="504.00" width="5.80" height="16.20" fill="#056b56"/>
<text x="330.7" y="514.17" font-size="6.3" font-weight="bold" text-anchor="middle" fill="#fff" class="ns">7</text>
<rect x="319.00" y="512.12" width="1.35" height="1.35" rx="0.25" fill="#0d0d0d"/>
<rect x="321.32" y="512.12" width="1.35" height="1.35" rx="0.25" fill="#0d0d0d"/>
<rect x="323.65" y="512.12" width="1.35" height="1.35" rx="0.25" fill="#0d0d0d"/>
<rect x="412.10" y="504.00" width="12.50" height="16.20" fill="#056b56"/>
<rect x="424.40" y="508.50" width="50.20" height="7.10" fill="#056b56"/>
<text x="418.4" y="514.17" font-size="6.3" font-weight="bold" text-anchor="middle" fill="#fff" class="ns">8</text>
<rect x="384.50" y="488.30" width="1.80" height="8.60" fill="#5f3a18"/>
<path d="M381.40,495.90 L389.40,495.90 L385.40,502.80 Z" fill="#5f3a18"/>
<polyline points="333.50,504.20 372.90,490.20 412.30,504.20" fill="none" stroke="#111" stroke-width="1.5" stroke-linejoin="miter" stroke-linecap="butt"/>
<path d="M349.2,528 V538.3 M345.1,533.9 L349.2,538.6 L353.4,533.9" fill="none" stroke="#1a5596" stroke-width="1.45" stroke-linejoin="miter"/>
<text x="357.5" y="536.2" font-size="8.2" fill="#1a5596" stroke="#1a5596" style="stroke:#1a5596" textLength="30.8" lengthAdjust="spacingAndGlyphs">Option 1</text>
<path d="M409.2,538.8 V528.4 M405.0,532.9 L409.2,528.2 L413.5,532.9" fill="none" stroke="#c8203e" stroke-width="1.45" stroke-linejoin="miter"/>
<text x="417.3" y="536.2" font-size="8.2" fill="#c8203e" style="stroke:#c8203e" textLength="31.2" lengthAdjust="spacingAndGlyphs">Option 2</text>
</svg>
</body></html>
